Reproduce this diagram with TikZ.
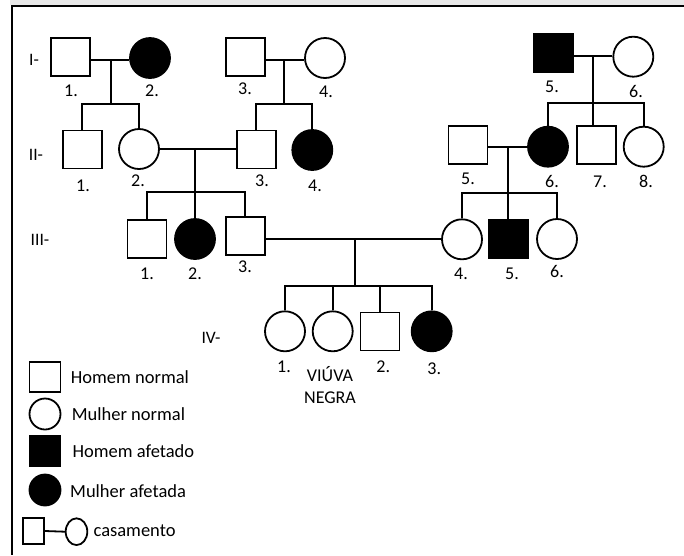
\documentclass[tikz,border=0pt]{standalone}
\usepackage{fontspec}
\setmainfont{Carlito}
\usetikzlibrary{calc,shapes.geometric}
\begin{document}
\begin{tikzpicture}[x=1pt,y=-1pt,line width=1.8pt,
  sq/.style={draw,rectangle,minimum width=39pt,minimum height=38pt,inner sep=0pt},
  fsq/.style={sq,fill=black},
  ci/.style={draw,circle,minimum size=40pt,inner sep=0pt},
  fci/.style={ci,fill=black},
  num/.style={font=\fontsize{18}{20}\selectfont,inner sep=0pt},
  gen/.style={font=\fontsize{17.5}{20}\selectfont,inner sep=0pt},
  leg/.style={font=\fontsize{18.5}{20}\selectfont,inner sep=0pt,anchor=west},
  lsq/.style={draw,rectangle,minimum width=31pt,minimum height=30pt,inner sep=0pt},
  lci/.style={draw,circle,minimum size=31pt,inner sep=0pt}]
\useasboundingbox (0,0) rectangle (684,555);
% frame
\fill[gray!18] (10,0) rectangle (684,5);
\draw[line width=2pt] (684,6.3) -- (12.2,6.3) -- (12.2,555);
% generation labels
\node[gen] (gI) at (34,60) {I-};
\node[gen] (gII) at (36,155) {II-};
\node[gen] (gIII) at (40,240) {III-};
\node[gen] (gIV) at (211,338) {IV-};
% generation I
\node[sq]  (I1) at (70.5,56.7) {};
\node[fci] (I2) at (150,58) {};
\node[sq]  (I3) at (245.5,56.7) {};
\node[ci]  (I4) at (325,58) {};
\node[fsq] (I5) at (553.8,52.8) {};
\node[ci]  (I6) at (633.3,56.7) {};
% generation II
\node[sq]  (II1) at (82.3,149.5) {};
\node[ci]  (II2) at (139,149) {};
\node[sq]  (II3) at (256.3,149.5) {};
\node[fci] (II4) at (312.3,150) {};
\node[sq]  (II5) at (468,145) {};
\node[fci] (II6) at (548,146.7) {};
\node[sq]  (II7) at (596.7,145) {};
\node[ci]  (II8) at (643.7,146.7) {};
% generation III
\node[sq]  (III1) at (147,239) {};
\node[fci] (III2) at (195,239) {};
\node[sq]  (III3) at (245.3,236) {};
\node[ci]  (III4) at (462,239.3) {};
\node[fsq] (III5) at (508.7,238.7) {};
\node[ci]  (III6) at (557,239) {};
% generation IV
\node[ci]  (IV1) at (285,331.3) {};
\node[ci]  (IV2) at (332.7,331.3) {};
\node[sq]  (IV3) at (380,331.5) {};
\node[fci] (IV4) at (431.7,331.3) {};
% marriage and sibship points
\coordinate (m1) at (110.7,60);   \coordinate (s1) at (110.7,104);
\coordinate (m2) at (284.3,60);   \coordinate (s2) at (284.3,104);
\coordinate (m3) at (593.3,56);   \coordinate (s3) at (593.3,102.7);
\coordinate (m4) at (195,149.3);  \coordinate (s4) at (195,192.3);
\coordinate (m5) at (507.7,146.7);\coordinate (s5) at (507.7,192.7);
\coordinate (m6) at (355,238.7);  \coordinate (s6) at (355,285.7);
% marriages
\draw (I1.east |- m1) -- (I2.west |- m1);
\draw (I3.east |- m2) -- (I4.west |- m2);
\draw (I5.east |- m3) -- (I6.west |- m3);
\draw (II2.east |- m4) -- (II3.west |- m4);
\draw (II5.east |- m5) -- (II6.west |- m5);
\draw (III3.east |- m6) -- (III4.west |- m6);
% descent lines
\draw (m1) -- (s1);
\draw (m2) -- (s2);
\draw (m3) -- (m3 |- II7.north);
\draw (m4) -- (m4 |- III2.north);
\draw (m5) -- (m5 |- III5.north);
\draw (m6) -- (s6);
% sibships
\draw (II1.north) -- (II1.north |- s1) -- (II2.north |- s1) -- (II2.north);
\draw (II3.north) -- (II3.north |- s2) -- (II4.north |- s2) -- (II4.north);
\draw (II6.north) -- (II6.north |- s3) -- (II8.north |- s3) -- (II8.north);
\draw (III1.north) -- (III1.north |- s4) -- (III3.north |- s4) -- (III3.north);
\draw (III4.north) -- (III4.north |- s5) -- (III6.north |- s5) -- (III6.north);
\draw (IV1.north) -- (IV1.north |- s6) -- (IV4.north |- s6) -- (IV4.north);
\draw (IV2.north |- s6) -- (IV2.north);
\draw (IV3.north |- s6) -- (IV3.north);
% number labels
\node[num] (nI1) at (71,91) {1.};
\node[num] (nI2) at (152,91) {2.};
\node[num] (nI3) at (245,89) {3.};
\node[num] (nI4) at (326,92) {4.};
\node[num] (nI5) at (552,87) {5.};
\node[num] (nI6) at (636,91) {6.};
\node[num] (nII1) at (83,186) {1.};
\node[num] (nII2) at (138,181) {2.};
\node[num] (nII3) at (262,181) {3.};
\node[num] (nII4) at (315,186) {4.};
\node[num] (nII5) at (468,179) {5.};
\node[num] (nII6) at (552,181) {6.};
\node[num] (nII7) at (600,182) {7.};
\node[num] (nII8) at (646,181) {8.};
\node[num] (nIII1) at (147,274) {1.};
\node[num] (nIII2) at (195,274) {2.};
\node[num] (nIII3) at (245,267) {3.};
\node[num] (nIII4) at (461,274) {4.};
\node[num] (nIII5) at (512,274) {5.};
\node[num] (nIII6) at (557,271) {6.};
\node[num] (nIV1) at (284,367) {1.};
\node[num] (nIV3) at (383.3,367) {2.};
\node[num] (nIV4) at (434.3,368.5) {3.};
\node[num,align=center,font=\fontsize{18}{22}\selectfont] (vn) at (330,385) {VIÚVA\\NEGRA};
% legend
\node[lsq] (L1) at (45,376.7) {};
\node[lci] (L2) at (45,414) {};
\node[lsq,fill=black] (L3) at (45,451) {};
\node[lci,fill=black] (L4) at (45,490) {};
\node[leg] (T1) at (70,377) {Homem normal};
\node[leg] (T2) at (71,414) {Mulher normal};
\node[leg] (T3) at (71.7,451) {Homem afetado};
\node[leg] (T4) at (69.3,491) {Mulher afetada};
\node[draw,rectangle,minimum width=21.6pt,minimum height=26.7pt,inner sep=0pt] (L5) at (33.5,531) {};
\node[draw,ellipse,minimum width=21.6pt,minimum height=26.7pt,inner sep=0pt] (L6) at (76.5,531.7) {};
\draw (L5.east) -- (L6.west);
\node[leg] (T5) at (92.7,531) {casamento};
\end{tikzpicture}
\end{document}
